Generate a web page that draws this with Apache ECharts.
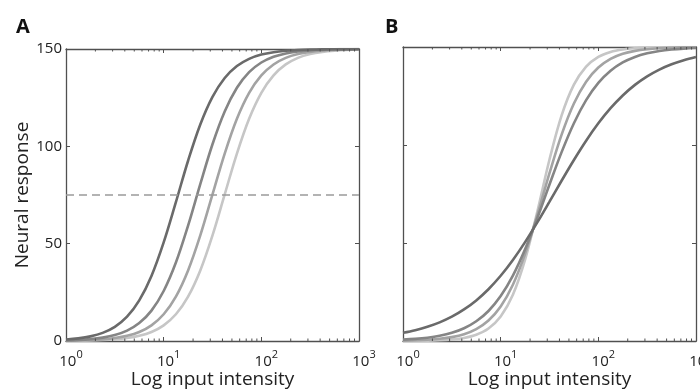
<!DOCTYPE html>
<html>
<head>
<meta charset="utf-8">
<script src="https://cdn.jsdelivr.net/npm/echarts@6/dist/echarts.min.js"></script>
<style>
  html, body { margin: 0; padding: 0; background: #fff; }
  #chart { width: 700px; height: 390px; }
</style>
</head>
<body>
<div id="chart"></div>
<script>
// input intensity, shared by all curves (10^0 .. 10^3)
var intensity = [1, 1.334, 1.778, 2.371, 3.162, 4.217, 5.623, 7.499, 10, 13.34, 17.78, 23.71, 31.62,
  42.17, 56.23, 74.99, 100, 133.4, 177.8, 237.1, 316.2, 421.7, 562.3, 749.9, 1000];

// panel A - same shape, shifted along the intensity axis (dark -> light)
var respA1 = [0.76, 1.35, 2.38, 4.18, 7.28, 12.47, 20.84, 33.44, 50.68, 71.35, 92.6, 111.23, 125.42,
  135.11, 141.25, 144.95, 147.12, 148.36, 149.08, 149.48, 149.71, 149.83, 149.91, 149.95, 149.97];
var respA2 = [0.31, 0.55, 0.97, 1.72, 3.04, 5.31, 9.2, 15.61, 25.68, 40.3, 59.27, 80.61, 101.08,
  117.9, 130.09, 138.11, 143.07, 146.03, 147.74, 148.72, 149.28, 149.59, 149.77, 149.87, 149.93];
var respA3 = [0.15, 0.27, 0.48, 0.85, 1.5, 2.64, 4.63, 8.05, 13.74, 22.8, 36.26, 54.27, 75.3,
  96.28, 114.18, 127.51, 136.46, 142.07, 145.44, 147.4, 148.53, 149.17, 149.53, 149.74, 149.85];
var respA4 = [0.08, 0.15, 0.27, 0.48, 0.85, 1.5, 2.64, 4.63, 8.05, 13.73, 22.8, 36.26, 54.27,
  75.3, 96.29, 114.18, 127.51, 136.46, 142.08, 145.44, 147.4, 148.53, 149.17, 149.53, 149.74];

// panel B - different steepness, all crossing near 20 (light -> dark)
var respB1 = [0.04, 0.09, 0.18, 0.37, 0.76, 1.55, 3.16, 6.34, 12.47, 23.55, 41.49, 65.96, 92.58,
  115.21, 130.77, 139.98, 144.95, 147.5, 148.77, 149.4, 149.71, 149.86, 149.93, 149.97, 149.98];
var respB2 = [0.2, 0.35, 0.63, 1.11, 1.97, 3.47, 6.06, 10.44, 17.61, 28.7, 44.42, 64.19, 85.64,
  105.43, 121.19, 132.31, 139.51, 143.92, 146.52, 148.02, 148.88, 149.37, 149.64, 149.8, 149.89];
var respB3 = [0.68, 1.07, 1.69, 2.66, 4.17, 6.5, 10.05, 15.32, 22.91, 33.34, 46.76, 62.68, 79.83,
  96.49, 111.12, 122.87, 131.66, 137.88, 142.12, 144.93, 146.76, 147.94, 148.69, 149.17, 149.48];
var respB4 = [4.16, 5.5, 7.24, 9.5, 12.4, 16.1, 20.72, 26.42, 33.27, 41.33, 50.45, 60.5, 71.11,
  81.88, 92.37, 102.19, 111.05, 118.77, 125.28, 130.67, 135.02, 138.48, 141.19, 143.3, 144.92];

var yTicks = [0, 50, 100, 150];
var xDecades = [1, 10, 100, 1000];
var xExponents = ['0', '1', '2', '3'];
var minorTicks = [2, 3, 4, 5, 6, 7, 8, 9, 20, 30, 40, 50, 60, 70, 80, 90, 200, 300, 400, 500, 600, 700, 800, 900];
var halfLevel = 75;

var FONT = '"Open Sans", "DejaVu Sans", sans-serif';
var AXIS_COLOR = '#505050';
var shadesA = ['#6a6a6a', '#858585', '#a3a3a3', '#c6c6c6'];
var shadesB = ['#c6c6c6', '#a3a3a3', '#858585', '#6a6a6a'];

var myChart = echarts.init(document.getElementById('chart'));

function curve(vals, color, idx) {
  return {
    type: 'line',
    xAxisIndex: idx,
    yAxisIndex: idx,
    data: intensity.map(function (x, i) { return [x, vals[i]]; }),
    showSymbol: false,
    smooth: 0.35,
    silent: true,
    lineStyle: { color: color, width: 2.6 },
    itemStyle: { color: color },
    z: 3
  };
}

function minorTickSeries(idx) {
  return {
    type: 'custom',
    xAxisIndex: idx,
    yAxisIndex: idx,
    silent: true,
    clip: false,
    encode: { x: 0, y: 1 },
    data: minorTicks.map(function (v) { return [v, 0]; }),
    renderItem: function (params, api) {
      var b = api.coord([api.value(0), 0]);
      var t = api.coord([api.value(0), 150]);
      return {
        type: 'group',
        children: [
          { type: 'line', shape: { x1: b[0], y1: b[1], x2: b[0], y2: b[1] - 2.5 }, style: { stroke: AXIS_COLOR, lineWidth: 1 } },
          { type: 'line', shape: { x1: t[0], y1: t[1], x2: t[0], y2: t[1] + 2.5 }, style: { stroke: AXIS_COLOR, lineWidth: 1 } }
        ]
      };
    },
    z: 4
  };
}

function logAxis(grid, pos, labels) {
  return {
    type: 'log',
    logBase: 10,
    min: 1,
    max: 1000,
    gridIndex: grid,
    position: pos,
    name: labels ? 'Log input intensity' : '',
    nameLocation: 'middle',
    nameGap: 29,
    nameMoveOverlap: false,
    nameTextStyle: { fontFamily: FONT, fontSize: 19, color: '#222' },
    axisLine: { show: true, onZero: false, lineStyle: { color: AXIS_COLOR, width: 1.3 } },
    axisTick: { show: true, inside: true, length: 4, lineStyle: { color: AXIS_COLOR } },
    splitLine: { show: false },
    axisLabel: {
      show: labels,
      margin: 8,
      padding: [0, 0, 0, 10],
      formatter: function (v) {
        var i = xDecades.indexOf(Math.round(v));
        return '{b|10}{s|' + xExponents[i] + '}';
      },
      rich: {
        b: { fontFamily: FONT, fontSize: 15, color: '#222', lineHeight: 20, verticalAlign: 'bottom' },
        s: { fontFamily: FONT, fontSize: 11, color: '#222', verticalAlign: 'top' }
      }
    }
  };
}

function valAxis(grid, pos, labels, name) {
  return {
    type: 'value',
    min: yTicks[0],
    max: yTicks[yTicks.length - 1],
    interval: 50,
    gridIndex: grid,
    position: pos,
    name: name || '',
    nameLocation: 'middle',
    nameGap: 33,
    nameTextStyle: { fontFamily: FONT, fontSize: 19, color: '#222' },
    axisLine: { show: true, onZero: false, lineStyle: { color: AXIS_COLOR, width: 1.3 } },
    axisTick: { show: true, inside: true, length: 4, lineStyle: { color: AXIS_COLOR } },
    splitLine: { show: false },
    axisLabel: { show: labels, margin: 4, fontFamily: FONT, fontSize: 15, color: '#222' }
  };
}

var series = [
  curve(respA4, shadesA[3], 0),
  curve(respA3, shadesA[2], 0),
  curve(respA2, shadesA[1], 0),
  curve(respA1, shadesA[0], 0),
  curve(respB1, shadesB[0], 2),
  curve(respB2, shadesB[1], 2),
  curve(respB3, shadesB[2], 2),
  curve(respB4, shadesB[3], 2),
  minorTickSeries(0),
  minorTickSeries(2)
];

// dashed half-max level in panel A
series[0].markLine = {
  silent: true,
  symbol: 'none',
  label: { show: false },
  lineStyle: { color: '#9a9a9a', width: 1.5, type: [8, 5] },
  data: [{ yAxis: halfLevel }]
};

var option = {
  animation: false,
  backgroundColor: '#fff',
  title: [
    { text: 'A', left: 11, top: 12, textStyle: { fontFamily: FONT, fontSize: 20, fontWeight: 'bold', color: '#111' } },
    { text: 'B', left: 380, top: 12, textStyle: { fontFamily: FONT, fontSize: 20, fontWeight: 'bold', color: '#111' } }
  ],
  grid: [
    { left: 66, top: 49, width: 293, height: 292, outerBoundsMode: 'none' },
    { left: 403, top: 47, width: 293, height: 294, outerBoundsMode: 'none' }
  ],
  xAxis: [
    logAxis(0, 'bottom', true),
    logAxis(0, 'top', false),
    logAxis(1, 'bottom', true),
    logAxis(1, 'top', false)
  ],
  yAxis: [
    valAxis(0, 'left', true, 'Neural response'),
    valAxis(0, 'right', false),
    valAxis(1, 'left', false),
    valAxis(1, 'right', false)
  ],
  series: series
};

myChart.setOption(option);
</script>
</body>
</html>
